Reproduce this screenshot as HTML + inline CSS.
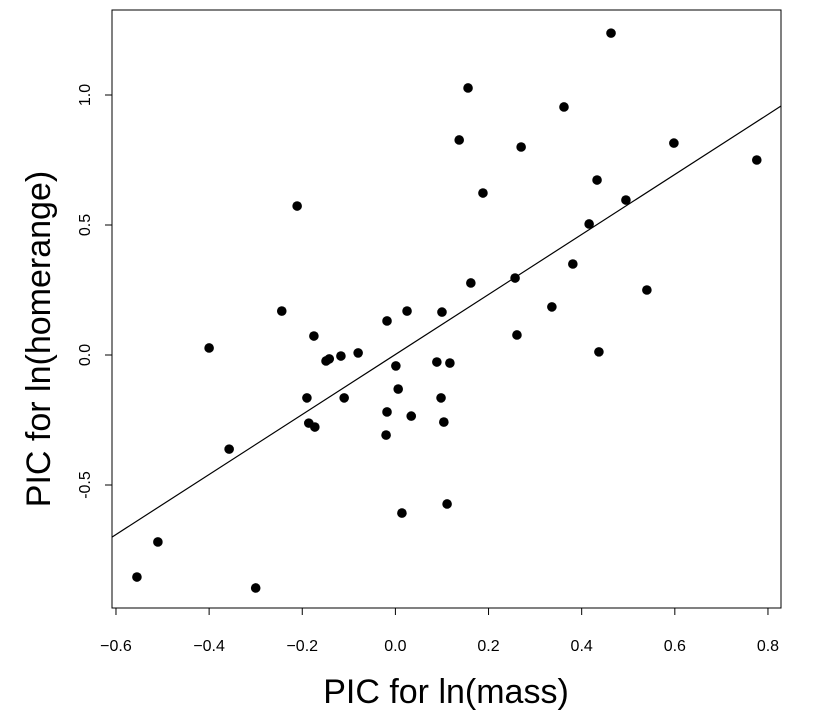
<!DOCTYPE html>
<html><head><meta charset="utf-8"><style>body{margin:0;background:#fff}svg{display:block;font-family:"Liberation Sans",Helvetica,sans-serif}</style></head>
<body>
<svg id="chart" width="813" height="727" xmlns="http://www.w3.org/2000/svg"></svg>
<script>
const xVals=[-0.555,-0.510,-0.300,-0.400,-0.357,-0.244,-0.211,-0.190,-0.186,-0.175,-0.173,-0.149,-0.142,-0.117,-0.110,-0.080,-0.018,-0.018,-0.020,0.001,0.006,0.014,0.025,0.034,0.089,0.100,0.098,0.104,0.117,0.111,0.137,0.156,0.162,0.188,0.257,0.261,0.270,0.336,0.362,0.381,0.416,0.433,0.437,0.463,0.495,0.540,0.598,0.776];
const yVals=[-0.854,-0.719,-0.896,0.027,-0.362,0.169,0.573,-0.165,-0.262,0.073,-0.277,-0.023,-0.015,-0.004,-0.165,0.008,0.131,-0.219,-0.308,-0.042,-0.131,-0.608,0.169,-0.235,-0.027,0.165,-0.165,-0.258,-0.031,-0.573,0.827,1.027,0.277,0.623,0.296,0.077,0.800,0.185,0.954,0.350,0.504,0.673,0.012,1.238,0.596,0.250,0.815,0.750];
const xTicks=[-0.6,-0.4,-0.2,0.0,0.2,0.4,0.6,0.8];
const xTickLabels=["\u22120.6","\u22120.4","\u22120.2","0.0","0.2","0.4","0.6","0.8"];
const yTicks=[-0.5,0.0,0.5,1.0];
const yTickLabels=["-0.5","0.0","0.5","1.0"];
const fitIntercept=0.002, fitSlope=1.154;

const svg=document.getElementById('chart');
const NS='http://www.w3.org/2000/svg';
const L=112,R=781,T=10,B=608;
const sx=v=>395.4+v*465.7;
const sy=v=>355-v*260;
const xMin=(L-395.4)/465.7, xMax=(R-395.4)/465.7;
function mk(t,a){const e=document.createElementNS(NS,t);for(const k in a)e.setAttribute(k,a[k]);svg.appendChild(e);return e;}
let e=mk('rect',{x:L,y:T,width:R-L,height:B-T,fill:'none',stroke:'#000','stroke-width':1});


e=mk('line',{x1:sx(xTicks[0]),x2:sx(xTicks[xTicks.length-1]),y1:B,y2:B,stroke:'#000'});


xTicks.forEach((v,i)=>{
 const t=mk('line',{x1:sx(v),x2:sx(v),y1:B,y2:B+7,stroke:'#000'});
 
 
 const l=mk('text',{x:sx(v),y:B+43,'text-anchor':'middle','font-size':16});
 l.textContent=xTickLabels[i];
 
 
});
e=mk('line',{x1:L,x2:L,y1:sy(yTicks[0]),y2:sy(yTicks[yTicks.length-1]),stroke:'#000'});


yTicks.forEach((v,i)=>{
 const t=mk('line',{x1:L-7,x2:L,y1:sy(v),y2:sy(v),stroke:'#000'});
 
 
 const l=mk('text',{x:L-22,y:sy(v),'text-anchor':'middle','font-size':16,transform:`rotate(-90 ${L-22} ${sy(v)})`});
 l.textContent=yTickLabels[i];
 
 
});
e=mk('text',{x:446,y:703,'text-anchor':'middle','font-size':34});
e.textContent='PIC for ln(mass)';


e=mk('text',{x:50,y:339,'text-anchor':'middle','font-size':34,transform:'rotate(-90 50 339)'});
e.textContent='PIC for ln(homerange)';


e=mk('line',{x1:sx(xMin),y1:sy(fitIntercept+fitSlope*xMin),x2:sx(xMax),y2:sy(fitIntercept+fitSlope*xMax),stroke:'#000','stroke-width':1.2});


xVals.forEach((v,i)=>{
 const c=mk('circle',{cx:sx(v),cy:sy(yVals[i]),r:4.8,fill:'#000'});
 
 
});
</script>
</body></html>
